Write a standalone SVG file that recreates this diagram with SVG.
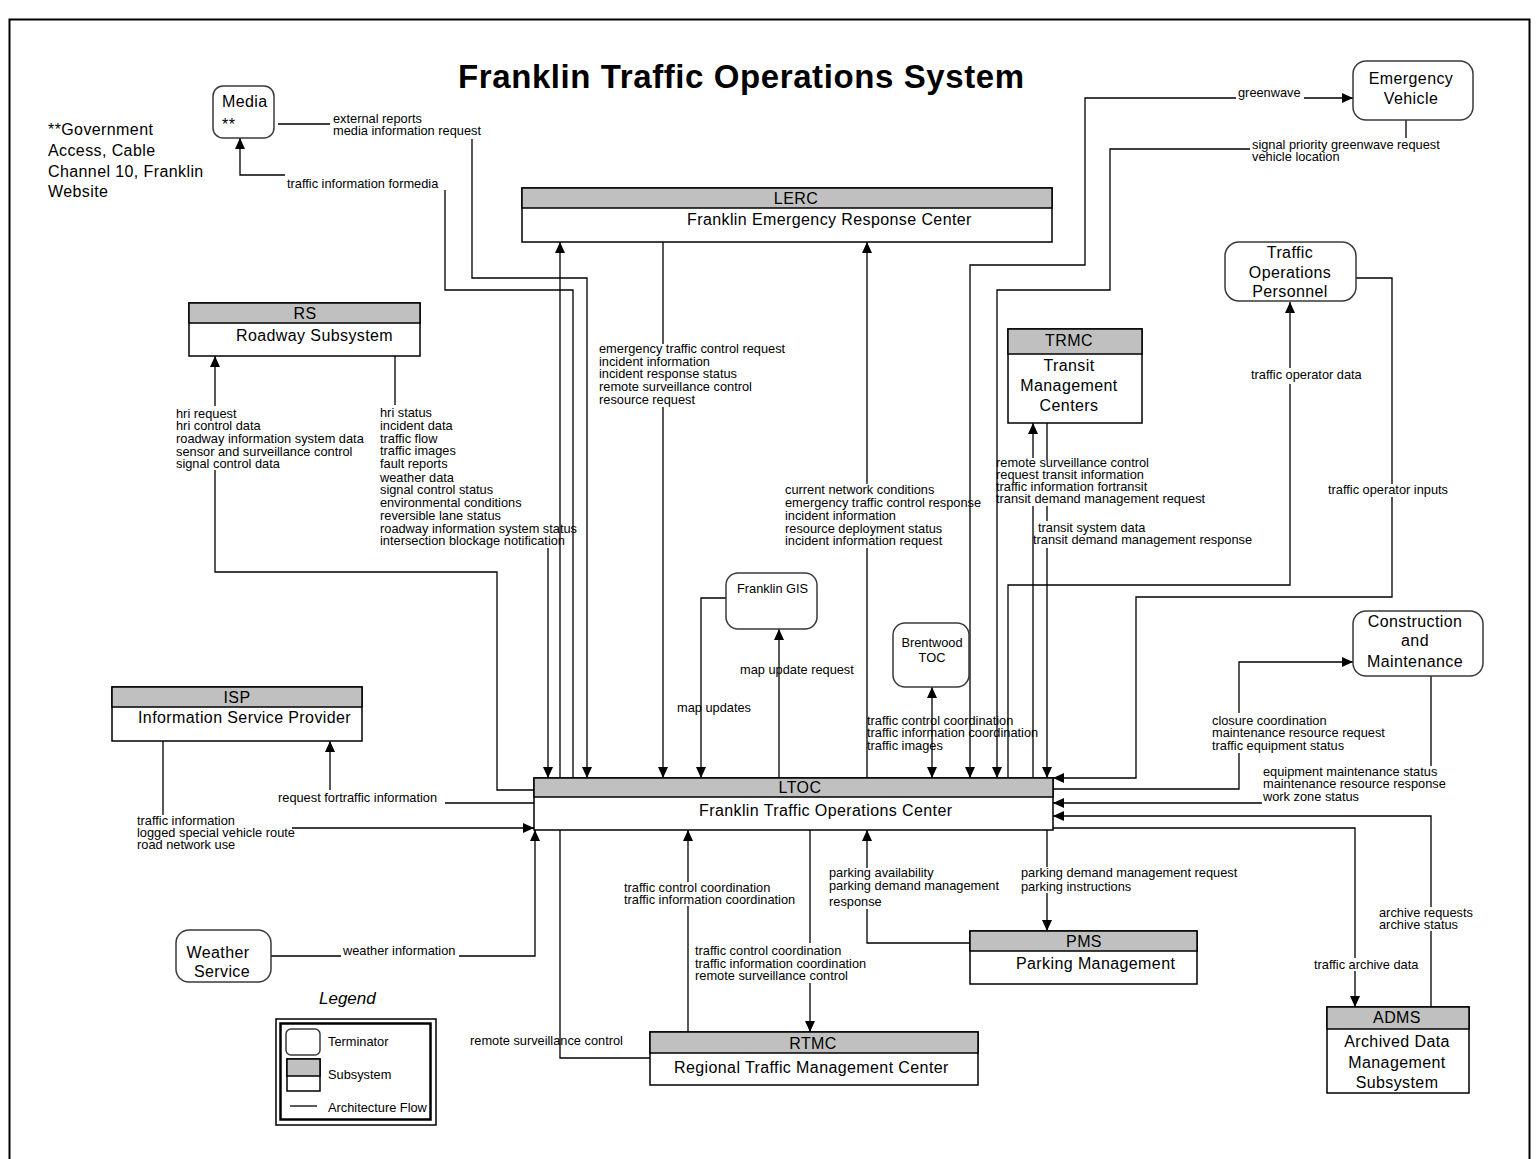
<svg xmlns="http://www.w3.org/2000/svg" width="1539" height="1159" viewBox="0 0 1539 1159">
<style>
.ln{fill:none;stroke:#000;stroke-width:1.3}
.a{marker-end:url(#ah)}
.b{marker-start:url(#ah)}
.sb{fill:#fff;stroke:#000;stroke-width:1.5}
.hd{fill:#c0c0c0;stroke:#000;stroke-width:1.5}
.tm{fill:#fff;stroke:#3a3a3a;stroke-width:1.5}
text{font-family:"Liberation Sans",Arial,Helvetica,sans-serif;fill:#000}
.nt{font-size:16px;letter-spacing:0.4px}
.lb{font-size:12.8px}
.m{text-anchor:middle}
</style>
<defs>
<marker id="ah" viewBox="0 0 11 10" refX="11" refY="5" markerWidth="11" markerHeight="10" markerUnits="userSpaceOnUse" orient="auto-start-reverse"><path d="M0,0 L11,5 L0,10 z" fill="#000"/></marker>
</defs>
<rect x="0" y="0" width="1539" height="1159" fill="#fff"/>
<rect x="9.5" y="19.5" width="1520" height="1150" fill="none" stroke="#000" stroke-width="2"/>
<text x="458" y="88" font-size="33" font-weight="bold" textLength="566" lengthAdjust="spacing">Franklin Traffic Operations System</text>
<text class="nt" x="48"><tspan x="48" y="135">**Government</tspan><tspan x="48" y="156">Access, Cable</tspan><tspan x="48" y="177">Channel 10, Franklin</tspan><tspan x="48" y="197">Website</tspan></text>

<g id="connectors">
<path class="ln a" d="M278,124 H330 M472,139 V278 H587 V778"/>
<path class="ln a" d="M573,778 V290 H445 V190 M285,175 H240 V138"/>
<path class="ln a" d="M663,242 V344 M663,407 V778"/>
<path class="ln a" d="M867,778 V548 M867,484 V242"/>
<path class="ln a" d="M650,1058 H560 V242"/>
<path class="ln a" d="M534,790 H497 V572 H215 V470 M215,406 V356"/>
<path class="ln a" d="M395,356 V405 M548,548 V778"/>
<path class="ln a b" d="M970,778 V265 H1085 V98 H1236 M1304,98 H1353"/>
<path class="ln a" d="M1406,120 V138 M1250,149 H1110 V290 H997 V778"/>
<path class="ln a" d="M1008,778 V585 H1290 V384 M1290,368 V302"/>
<path class="ln a" d="M1356,278 H1392 V484 M1392,497 V597 H1136 V778 H1053"/>
<path class="ln a" d="M1033,778 V506 M1033,458 V423"/>
<path class="ln a" d="M1047,423 V460 M1047,506 V521 M1047,548 V778"/>
<path class="ln a" d="M726,598 H701 V778"/>
<path class="ln a" d="M779,778 V629"/>
<path class="ln a b" d="M932,778 V687"/>
<path class="ln a" d="M1053,789 H1239 V753 M1239,713 V662 H1353"/>
<path class="ln a" d="M1431,676 V766 M1262,803 H1053"/>
<path class="ln a" d="M1431,1007 V931 M1431,907 V816 H1053"/>
<path class="ln a" d="M1053,828 H1355 V958 M1355,971 V1007"/>
<path class="ln a" d="M1047,830 V867 M1047,893 V931"/>
<path class="ln a" d="M970,943 H867 V909 M867,868 V830"/>
<path class="ln a" d="M688,1032 V906 M688,882 V830"/>
<path class="ln a" d="M810,830 V943 M810,983 V1032"/>
<path class="ln a" d="M271,956 H341 M459,956 H535 V830"/>
<path class="ln a" d="M163,741 V815 M292,828 H534"/>
<path class="ln a" d="M534,803 H445 M330,790 V741"/>

<g class="lb">
<text x="333"><tspan x="333" y="123">external reports</tspan><tspan x="333" y="135">media information request</tspan></text>
<text x="287" y="188">traffic information formedia</text>
<text x="1238" y="97">greenwave</text>
<text x="1252"><tspan x="1252" y="149">signal priority greenwave request</tspan><tspan x="1252" y="161">vehicle location</tspan></text>
<text x="599"><tspan x="599" y="353">emergency traffic control request</tspan><tspan x="599" y="366">incident information</tspan><tspan x="599" y="378">incident response status</tspan><tspan x="599" y="391">remote surveillance control</tspan><tspan x="599" y="404">resource request</tspan></text>
<text x="785"><tspan x="785" y="494">current network conditions</tspan><tspan x="785" y="507">emergency traffic control response</tspan><tspan x="785" y="520">incident information</tspan><tspan x="785" y="533">resource deployment status</tspan><tspan x="785" y="545">incident information request</tspan></text>
<text x="176"><tspan x="176" y="418">hri request</tspan><tspan x="176" y="430">hri control data</tspan><tspan x="176" y="443">roadway information system data</tspan><tspan x="176" y="456">sensor and surveillance control</tspan><tspan x="176" y="468">signal control data</tspan></text>
<text x="380"><tspan x="380" y="417">hri status</tspan><tspan x="380" y="430">incident data</tspan><tspan x="380" y="443">traffic flow</tspan><tspan x="380" y="455">traffic images</tspan><tspan x="380" y="468">fault reports</tspan><tspan x="380" y="482">weather data</tspan><tspan x="380" y="494">signal control status</tspan><tspan x="380" y="507">environmental conditions</tspan><tspan x="380" y="520">reversible lane status</tspan><tspan x="380" y="533">roadway information system status</tspan><tspan x="380" y="545">intersection blockage notification</tspan></text>
<text x="996"><tspan x="996" y="467">remote surveillance control</tspan><tspan x="996" y="479">request transit information</tspan><tspan x="996" y="491">traffic information fortransit</tspan><tspan x="996" y="503">transit demand management request</tspan></text>
<text x="1038" y="532">transit system data</text>
<text x="1033" y="544">transit demand management response</text>
<text x="1251" y="379">traffic operator data</text>
<text x="1328" y="494">traffic operator inputs</text>
<text x="677" y="712">map updates</text>
<text x="740" y="674">map update request</text>
<text x="867"><tspan x="867" y="725">traffic control coordination</tspan><tspan x="867" y="737">traffic information coordination</tspan><tspan x="867" y="750">traffic images</tspan></text>
<text x="1212"><tspan x="1212" y="725">closure coordination</tspan><tspan x="1212" y="737">maintenance resource request</tspan><tspan x="1212" y="750">traffic equipment status</tspan></text>
<text x="1263"><tspan x="1263" y="776">equipment maintenance status</tspan><tspan x="1263" y="788">maintenance resource response</tspan><tspan x="1263" y="801">work zone status</tspan></text>
<text x="278" y="802">request fortraffic information</text>
<text x="137"><tspan x="137" y="825">traffic information</tspan><tspan x="137" y="837">logged special vehicle route</tspan><tspan x="137" y="849">road network use</tspan></text>
<text x="343" y="955">weather information</text>
<text x="470" y="1045">remote surveillance control</text>
<text x="624"><tspan x="624" y="892">traffic control coordination</tspan><tspan x="624" y="904">traffic information coordination</tspan></text>
<text x="695"><tspan x="695" y="955">traffic control coordination</tspan><tspan x="695" y="968">traffic information coordination</tspan><tspan x="695" y="980">remote surveillance control</tspan></text>
<text x="829"><tspan x="829" y="877">parking availability</tspan><tspan x="829" y="890">parking demand management</tspan><tspan x="829" y="906">response</tspan></text>
<text x="1021"><tspan x="1021" y="877">parking demand management request</tspan><tspan x="1021" y="891">parking instructions</tspan></text>
<text x="1379"><tspan x="1379" y="917">archive requests</tspan><tspan x="1379" y="929">archive status</tspan></text>
<text x="1314" y="969">traffic archive data</text>
</g>
</g>

<g id="media">
<rect class="tm" x="213" y="86" width="61" height="52" rx="10"/>
<text class="nt" x="222" y="107">Media</text>
<text class="nt" x="222" y="130">**</text>
</g>
<g id="emergency-vehicle">
<rect class="tm" x="1353" y="61" width="120" height="59" rx="13"/>
<text class="nt m" x="1411"><tspan x="1411" y="84">Emergency</tspan><tspan x="1411" y="104">Vehicle</tspan></text>
</g>
<g id="lerc">
<rect class="sb" x="522" y="188" width="530" height="54"/>
<rect class="hd" x="522" y="188" width="530" height="20"/>
<text class="nt m" x="796" y="204">LERC</text>
<text class="nt" x="687" y="225">Franklin Emergency Response Center</text>
</g>
<g id="rs">
<rect class="sb" x="189" y="303" width="231" height="53"/>
<rect class="hd" x="189" y="303" width="231" height="20"/>
<text class="nt m" x="305" y="319">RS</text>
<text class="nt" x="236" y="341">Roadway Subsystem</text>
</g>
<g id="traffic-operations-personnel">
<rect class="tm" x="1225" y="242" width="131" height="59" rx="14"/>
<text class="nt m" x="1290"><tspan x="1290" y="258">Traffic</tspan><tspan x="1290" y="278">Operations</tspan><tspan x="1290" y="297">Personnel</tspan></text>
</g>
<g id="trmc">
<rect class="sb" x="1008" y="329" width="134" height="94"/>
<rect class="hd" x="1008" y="329" width="134" height="25"/>
<text class="nt m" x="1069" y="346">TRMC</text>
<text class="nt m" x="1069"><tspan x="1069" y="371">Transit</tspan><tspan x="1069" y="391">Management</tspan><tspan x="1069" y="411">Centers</tspan></text>
</g>
<g id="franklin-gis">
<rect class="tm" x="726" y="573" width="91" height="56" rx="12"/>
<text class="lb" x="737" y="593" font-size="13">Franklin GIS</text>
</g>
<g id="brentwood-toc">
<rect class="tm" x="893" y="623" width="76" height="64" rx="12"/>
<text class="lb m" x="932"><tspan x="932" y="647">Brentwood</tspan><tspan x="932" y="662">TOC</tspan></text>
</g>
<g id="construction-maintenance">
<rect class="tm" x="1353" y="611" width="130" height="65" rx="13"/>
<text class="nt m" x="1415"><tspan x="1415" y="627">Construction</tspan><tspan x="1415" y="646">and</tspan><tspan x="1415" y="667">Maintenance</tspan></text>
</g>
<g id="isp">
<rect class="sb" x="112" y="687" width="250" height="54"/>
<rect class="hd" x="112" y="687" width="250" height="20"/>
<text class="nt m" x="237" y="703">ISP</text>
<text class="nt" x="138" y="723">Information Service Provider</text>
</g>
<g id="ltoc">
<rect class="sb" x="534" y="778" width="519" height="52"/>
<rect class="hd" x="534" y="778" width="519" height="19"/>
<text class="nt m" x="800" y="793">LTOC</text>
<text class="nt" x="699" y="816">Franklin Traffic Operations Center</text>
</g>
<g id="weather-service">
<rect class="tm" x="176" y="930" width="95" height="52" rx="13"/>
<text class="nt m" x="220"><tspan x="218" y="958">Weather</tspan><tspan x="222" y="977">Service</tspan></text>
</g>
<g id="pms">
<rect class="sb" x="970" y="931" width="227" height="53"/>
<rect class="hd" x="970" y="931" width="227" height="20"/>
<text class="nt m" x="1084" y="947">PMS</text>
<text class="nt" x="1016" y="969">Parking Management</text>
</g>
<g id="rtmc">
<rect class="sb" x="650" y="1032" width="328" height="53"/>
<rect class="hd" x="650" y="1032" width="328" height="21"/>
<text class="nt m" x="813" y="1049">RTMC</text>
<text class="nt" x="674" y="1073">Regional Traffic Management Center</text>
</g>
<g id="adms">
<rect class="sb" x="1327" y="1007" width="142" height="86"/>
<rect class="hd" x="1327" y="1007" width="142" height="22"/>
<text class="nt m" x="1397" y="1023">ADMS</text>
<text class="nt m" x="1397"><tspan x="1397" y="1047">Archived Data</tspan><tspan x="1397" y="1068">Management</tspan><tspan x="1397" y="1088">Subsystem</tspan></text>
</g>
<g id="legend">
<text x="319" y="1004" font-family="'Liberation Serif',serif" font-style="italic" font-size="17">Legend</text>
<rect x="276" y="1019" width="160" height="106" fill="#fff" stroke="#000" stroke-width="1.5"/>
<rect x="280.5" y="1023.5" width="150" height="96" fill="none" stroke="#000" stroke-width="2.5"/>
<rect class="tm" x="286" y="1029" width="34" height="26" rx="5"/>
<rect class="sb" x="287" y="1059" width="33" height="32" stroke-width="1.2"/>
<rect class="hd" x="287" y="1059" width="33" height="17" stroke-width="1.2"/>
<line x1="290" y1="1106" x2="317" y2="1106" stroke="#000" stroke-width="1.3"/>
<text class="lb" x="328" y="1046">Terminator</text>
<text class="lb" x="328" y="1079">Subsystem</text>
<text class="lb" x="328" y="1112">Architecture Flow</text>
</g>
</svg>
